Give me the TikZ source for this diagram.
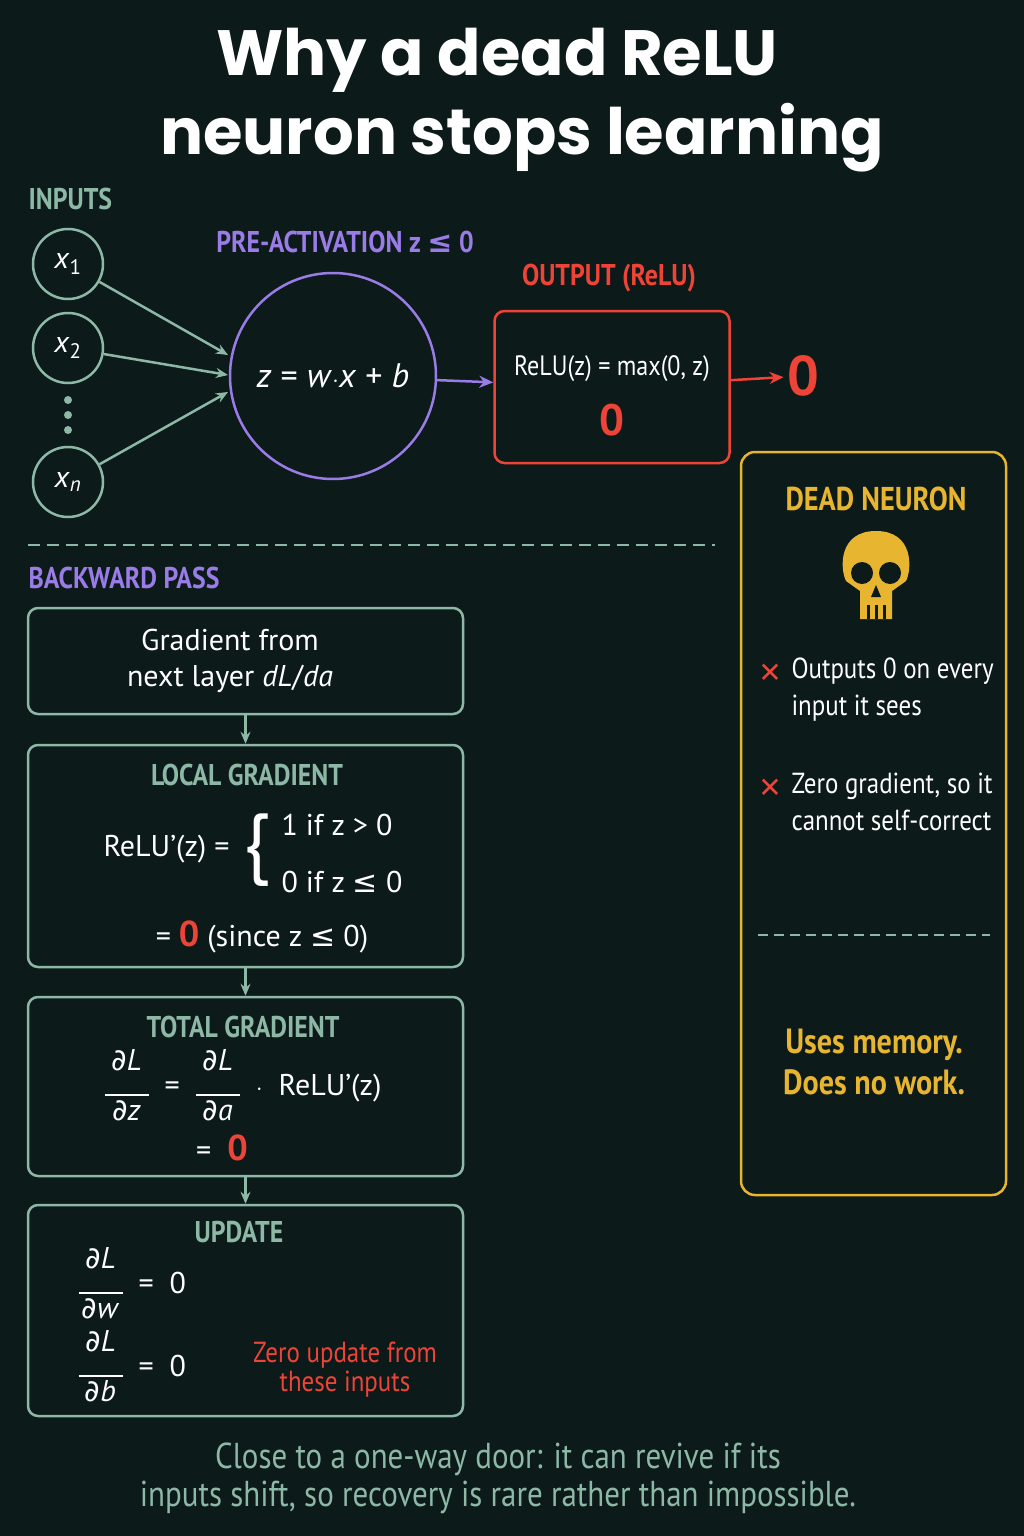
\documentclass[tikz,border=0pt]{standalone}
\usepackage{fontspec}
\setmainfont{PT Sans}
\newfontfamily\cond{PT Sans}[FakeStretch=0.86]
\newfontfamily\titlefont{Poppins}[UprightFont=* Bold]
\newfontfamily\djv{DejaVu Sans}
\usetikzlibrary{arrows.meta}
\definecolor{bg}{HTML}{0C1A1A}
\definecolor{gr}{HTML}{8DB8A6}
\definecolor{pu}{HTML}{9A7CE6}
\definecolor{rd}{HTML}{EE4437}
\definecolor{ye}{HTML}{E8B531}
\newcommand{\fs}[1]{\fontsize{#1}{#1}\selectfont}
\newcommand{\pd}{{\djv ∂}}
\newcommand{\myle}{{\djv ≤}}
\newcommand{\myfr}[2]{\begin{tabular}{@{}c@{}}#1\\[-4pt]\rule{44pt}{2pt}\\[-6pt]#2\end{tabular}}
\begin{document}
\begin{tikzpicture}[x=1pt,y=-1pt,
  box/.style={draw=gr,line width=2.5pt,rounded corners=10pt},
  inp/.style={circle,draw=gr,line width=2.5pt,minimum size=70pt,inner sep=0pt,text=white,font=\fs{30}},
  ga/.style={-{Stealth[length=12pt,width=10pt]},gr,line width=2.5pt},
  hd/.style={font=\cond\bfseries\fs{30}},
  wt/.style={text=white,font=\fs{30}}]
\fill[bg] (0,0) rectangle (1024,1536);
\useasboundingbox (0,0) rectangle (1024,1536);
\node[text=white,font=\titlefont\fs{64}] (t1) at (497,60) {Why a dead ReLU};
\node[text=white,font=\titlefont\fs{64}] (t2) at (522,138) {neuron stops learning};
% forward
\node[hd,text=gr,anchor=west] (inl) at (25,199) {INPUTS};
\node[inp] (x1) at (68,264) {\textit{x}\textsubscript{1}};
\node[inp] (x2) at (68,348) {\textit{x}\textsubscript{2}};
\node[inp] (xn) at (68,482) {\textit{x}\textsubscript{\textit{n}}};
\foreach \y in {400,415,430}{\fill[gr] (68,\y) circle (4pt);}
\node[circle,draw=pu,line width=2.5pt,minimum size=206pt,inner sep=0pt,text=white,font=\fs{34}] (z) at (333,376) {\textit{z} = \textit{w}$\cdot$\textit{x} + \textit{b}};
\node[hd,text=pu] (pl) at (345,242) {PRE-ACTIVATION z \myle{} 0};
\coordinate (a1) at (228,355);\coordinate (a2) at (228,375);\coordinate (a3) at (228,392);
\draw[ga] (x1) -- (a1); \draw[ga] (x2) -- (a2); \draw[ga] (xn) -- (a3);
\node[draw=rd,line width=2.5pt,rounded corners=10pt,minimum width=235pt,minimum height=152pt] (ob) at (612,387) {};
\node[hd,text=rd] (ol) at (609,278) {OUTPUT (ReLU)};
\node[text=white,font=\cond\fs{28}] (of) at (612,369) {ReLU(z) = max(0, z)};
\node[text=rd,font=\bfseries\fs{44}] (o0) at (612,420) {0};
\draw[-{Stealth[length=14pt,width=12pt]},pu,line width=2.5pt] (z) -- (ob);
\node[text=rd,font=\bfseries\fs{56}] (out) at (803,376) {0};
\draw[-{Stealth[length=14pt,width=12pt]},rd,line width=2.5pt] (ob) -- (out);
\draw[gr,line width=2pt,dash pattern=on 12pt off 7pt] (28,545) -- (715,545);
% backward
\node[hd,text=pu,anchor=west] (bp) at (25,578) {BACKWARD PASS};
\node[box,minimum width=435pt,minimum height=106pt] (b1) at (245.5,661) {};
\node[wt,align=center] at (230,661) {Gradient from\\[6pt]next layer \textit{dL}/\textit{da}};
\node[box,minimum width=435pt,minimum height=222pt] (b2) at (245.5,856) {};
\node[hd,text=gr] at (247,775) {LOCAL GRADIENT};
\node[wt,anchor=east] at (233,849) {ReLU’(z) =};
\node[text=white,font=\fs{78}] at (257,850) {\{};
\node[wt,anchor=west] at (278,825) {1 if z > 0};
\node[wt,anchor=west] at (278,882) {0 if z \myle{} 0};
\node[wt] at (262,937) {= {\color{rd}\bfseries\fs{36}0} (since z \myle{} 0)};
\node[box,minimum width=435pt,minimum height=179pt] (b3) at (245.5,1086.5) {};
\node[hd,text=gr] at (243,1027) {TOTAL GRADIENT};
\node[wt] at (243,1089) {\myfr{\pd\textit{L}}{\pd\textit{z}} \ = \ \myfr{\pd\textit{L}}{\pd\textit{a}} \ $\cdot$ \ ReLU’(z)};
\node[wt] at (222,1148) {= \ {\color{rd}\bfseries\fs{36}0}};
\node[box,minimum width=435pt,minimum height=211pt] (b4) at (245.5,1310.5) {};
\node[hd,text=gr] at (239,1232) {UPDATE};
\node[wt,anchor=west] at (75,1287) {\myfr{\pd\textit{L}}{\pd\textit{w}} \ = \ 0};
\node[wt,anchor=west] at (75,1370) {\myfr{\pd\textit{L}}{\pd\textit{b}} \ = \ 0};
\node[text=rd,font=\cond\fs{29},align=center] at (345,1370) {Zero update from\\these inputs};
\draw[ga] (b1) -- (b2); \draw[ga] (b2) -- (b3); \draw[ga] (b3) -- (b4);
% right panel
\node[draw=ye,line width=2.5pt,rounded corners=14pt,minimum width=265pt,minimum height=743pt] (dn) at (873.5,823.5) {};
\node[hd,text=ye,font=\cond\bfseries\fs{33}] at (876,499) {DEAD NEURON};
\begin{scope}[shift={(876,575)}]
 \fill[ye] (0,-44) .. controls (-38,-44) and (-36,-6) .. (-30,6) -- (-16,16) -- (-16,44) -- (16,44) -- (16,16) -- (30,6) .. controls (36,-6) and (38,-44) .. (0,-44) -- cycle;
 \fill[bg] (-14,-2) circle (11pt); \fill[bg] (14,-2) circle (11pt);
 \fill[bg] (0,10) -- (-5,22) -- (5,22) -- cycle;
 \foreach \x in {-8,0,8}{\fill[bg] (\x-1.5,30) rectangle (\x+1.5,44);}
\end{scope}
\node[text=rd,font=\djv\bfseries\fs{28}] at (770,673) {✕};
\node[text=white,font=\cond\fs{29},anchor=north west,align=left] at (788,654) {Outputs 0 on every\\[8pt]input it sees};
\node[text=rd,font=\djv\bfseries\fs{28}] at (770,788) {✕};
\node[text=white,font=\cond\fs{29},anchor=north west,align=left] at (788,769) {Zero gradient, so it\\[8pt]cannot self-correct};
\draw[gr,line width=2pt,dash pattern=on 10pt off 6pt] (758,935) -- (990,935);
\node[text=ye,font=\cond\bfseries\fs{35},align=center] at (874,1062) {Uses memory.\\[6pt]Does no work.};
\node[text=gr,font=\cond\fs{36},align=center] at (498,1478) {Close to a one-way door: it can revive if its\\[2pt]inputs shift, so recovery is rare rather than impossible.};
\end{tikzpicture}
\end{document}
